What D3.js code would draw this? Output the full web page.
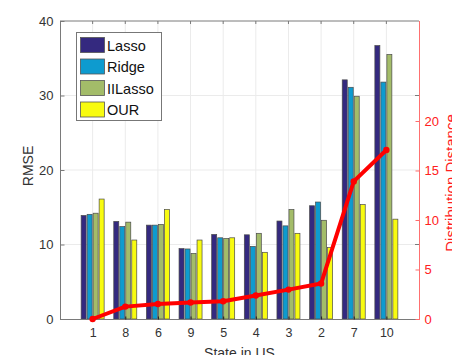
<!DOCTYPE html>
<html>
<head>
<meta charset="utf-8">
<script src="https://cdn.jsdelivr.net/npm/d3@7"></script>
<style>
  body { margin: 0; background: #fff; }
  svg { font-family: "Liberation Sans", Arial, sans-serif; }
</style>
</head>
<body>
<svg width="452" height="355"></svg>
<script>
// states in plotting order
var states = ["1", "8", "6", "9", "5", "4", "3", "2", "7", "10"];
var methods = ["Lasso", "Ridge", "IILasso", "OUR"];
var colors = ["#34297f", "#0e9bcf", "#a3bc69", "#f8fb10"];

var lasso   = [13.9, 13.1, 12.6, 9.45, 11.35, 11.3, 13.15, 15.2, 32.1, 36.7];
var ridge   = [14.05, 12.4, 12.6, 9.4, 10.9, 9.75, 12.5, 15.7, 31.1, 31.8];
var iilasso = [14.2, 13.0, 12.7, 8.8, 10.8, 11.5, 14.7, 13.25, 29.9, 35.5];
var our     = [16.1, 10.6, 14.7, 10.6, 10.9, 8.95, 11.5, 9.6, 15.35, 13.4];
var distance = [0, 1.25, 1.52, 1.66, 1.79, 2.37, 2.97, 3.58, 13.9, 17.07];

var leftTicks = [0, 10, 20, 30, 40];
var rightTicks = [0, 5, 10, 15, 20];

var series = [lasso, ridge, iilasso, our];

var svg = d3.select("svg");
var L = 60, R = 419, T = 21, B = 319;

var x = d3.scaleLinear().domain([0, states.length + 1]).range([L, R]);
var y = d3.scaleLinear().domain([0, 40]).range([B, T]);
var y2 = d3.scaleLinear().domain([0, 30.1]).range([B, T]);

var barW = 5, step = 6;

// grid
svg.append("g").selectAll("line").data(states).join("line")
  .attr("x1", (d, i) => x(i + 1)).attr("x2", (d, i) => x(i + 1))
  .attr("y1", T).attr("y2", B)
  .attr("stroke", "#ebebeb");
svg.append("g").selectAll("line").data([10, 20, 30]).join("line")
  .attr("x1", L).attr("x2", R)
  .attr("y1", d => y(d)).attr("y2", d => y(d))
  .attr("stroke", "#ebebeb");

// bars
series.forEach(function(vals, s) {
  svg.append("g").selectAll("rect").data(vals).join("rect")
    .attr("x", (d, i) => x(i + 1) - 2 * step + 0.5 + s * step)
    .attr("y", d => y(d))
    .attr("width", barW)
    .attr("height", d => y(0) - y(d))
    .attr("fill", colors[s])
    .attr("stroke", "#4a4a4a")
    .attr("stroke-width", 0.7);
});

// axes box
var gray = "#7a7a7a";
svg.append("line").attr("x1", L).attr("x2", R).attr("y1", T).attr("y2", T).attr("stroke", gray);
svg.append("line").attr("x1", L).attr("x2", R).attr("y1", B + 0.5).attr("y2", B + 0.5).attr("stroke", gray);
svg.append("line").attr("x1", L + 0.5).attr("x2", L + 0.5).attr("y1", T).attr("y2", B).attr("stroke", gray);

// left axis
var yAxis = d3.axisLeft(y).tickValues(leftTicks).tickSizeInner(-4).tickSizeOuter(0).tickPadding(7);
var gy = svg.append("g").attr("transform", "translate(" + (L + 0.5) + ",0)").call(yAxis);
gy.select(".domain").remove();
gy.selectAll("line").attr("stroke", gray);
gy.selectAll("text").attr("font-size", 13).attr("fill", "#333");

// mirrored left ticks on right side
svg.append("g").selectAll("line").data([10, 30]).join("line")
  .attr("x1", R - 4).attr("x2", R)
  .attr("y1", d => y(d)).attr("y2", d => y(d))
  .attr("stroke", gray);

// bottom axis
var xAxis = d3.axisBottom(x).tickValues(states.map((d, i) => i + 1))
  .tickFormat((d, i) => states[i]).tickSizeInner(-3).tickSizeOuter(0).tickPadding(9);
var gx = svg.append("g").attr("transform", "translate(0," + (B + 0.5) + ")").call(xAxis);
gx.select(".domain").remove();
gx.selectAll("line").attr("stroke", "#222");
gx.selectAll("text").attr("font-size", 12.5).attr("fill", "#333");

// top ticks
svg.append("g").selectAll("line").data(states).join("line")
  .attr("x1", (d, i) => x(i + 1)).attr("x2", (d, i) => x(i + 1))
  .attr("y1", T).attr("y2", T + 3).attr("stroke", gray);

// right axis
var yAxis2 = d3.axisRight(y2).tickValues(rightTicks).tickSizeInner(-4).tickSizeOuter(0).tickPadding(5);
var gr = svg.append("g").attr("transform", "translate(" + (R + 0.5) + ",0)").call(yAxis2);
gr.select(".domain").remove();
gr.selectAll("line").attr("stroke", "#ff6b6b");
gr.selectAll("text").attr("font-size", 13).attr("fill", "#ff2020");
svg.append("line").attr("x1", R + 0.5).attr("x2", R + 0.5).attr("y1", T).attr("y2", B + 1)
  .attr("stroke", "#ff7070");

// distance line
var line = d3.line().x((d, i) => x(i + 1)).y(d => y2(d));
svg.append("path").datum(distance)
  .attr("d", line).attr("fill", "none")
  .attr("stroke", "#ff0000").attr("stroke-width", 4).attr("stroke-linejoin", "round");
svg.append("g").selectAll("circle").data(distance).join("circle")
  .attr("cx", (d, i) => x(i + 1)).attr("cy", d => y2(d)).attr("r", 3.2)
  .attr("fill", "#ff0000");

// labels
svg.append("text").attr("transform", "translate(33,166) rotate(-90)")
  .attr("text-anchor", "middle").attr("font-size", 14).attr("fill", "#333").text("RMSE");
svg.append("text").attr("x", (L + R) / 2).attr("y", 358)
  .attr("text-anchor", "middle").attr("font-size", 14).attr("fill", "#333").text("State in US");
svg.append("text").attr("transform", "translate(456,183) rotate(-90)")
  .attr("text-anchor", "middle").attr("font-size", 15).attr("fill", "#ff2020").text("Distribution Distance");

// legend
var lg = svg.append("g");
lg.append("rect").attr("x", 76.5).attr("y", 32.5).attr("width", 85).attr("height", 88)
  .attr("fill", "#fff").attr("stroke", "#777");
methods.forEach(function(m, i) {
  lg.append("rect").attr("x", 80.5).attr("y", 37.5 + i * 21.5).attr("width", 24).attr("height", 15)
    .attr("fill", colors[i]).attr("stroke", "#555").attr("stroke-width", 0.8);
  lg.append("text").attr("x", 107).attr("y", 50.5 + i * 21.5)
    .attr("font-size", 14.5).attr("fill", "#111").text(m);
});
</script>
</body>
</html>
